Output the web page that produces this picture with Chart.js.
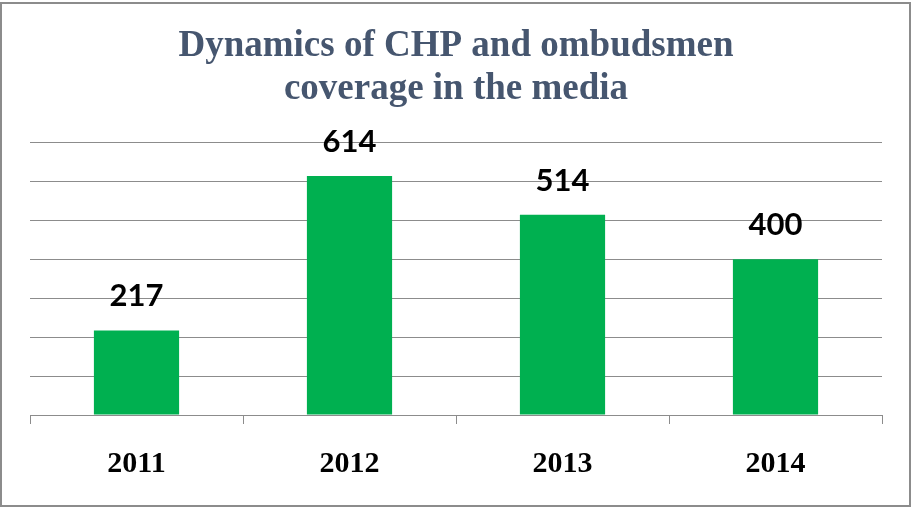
<!DOCTYPE html>
<html>
<head>
<meta charset="utf-8">
<script src="https://cdn.jsdelivr.net/npm/chart.js@4/dist/chart.umd.min.js"></script>
<style>
  html, body { margin: 0; padding: 0; background: #ffffff; }
  #wrap { position: relative; width: 914px; height: 508px; }
</style>
</head>
<body>
<div id="wrap"><canvas id="chart" width="914" height="508"></canvas></div>
<script>
// Media coverage counts per year
const years = ['2011', '2012', '2013', '2014'];
const coverage = [217, 614, 514, 400];
const titleLines = ['Dynamics of CHP and ombudsmen', 'coverage in the media'];

const GRID = '#8c8c8c';
const GREEN = '#00b050';

// Outer frame around the whole chart
const framePlugin = {
  id: 'frame',
  beforeDraw(chart) {
    const ctx = chart.ctx;
    ctx.save();
    ctx.fillStyle = '#ffffff';
    ctx.fillRect(0, 0, chart.width, chart.height);
    ctx.strokeStyle = '#8c8c8c';
    ctx.lineWidth = 2;
    ctx.strokeRect(1, 3, 909, 503);
    ctx.restore();
  }
};

// Value above each bar
const valueLabels = {
  id: 'valueLabels',
  afterDatasetsDraw(chart) {
    const ctx = chart.ctx;
    const meta = chart.getDatasetMeta(0);
    const data = chart.data.datasets[0].data;
    ctx.save();
    ctx.font = 'bold 31px Lato, "Open Sans", sans-serif';
    ctx.fillStyle = '#000000';
    ctx.textAlign = 'center';
    ctx.textBaseline = 'middle';
    meta.data.forEach((bar, i) => {
      ctx.fillText(String(data[i]), bar.x, bar.y - 34);
    });
    ctx.restore();
  }
};

new Chart(document.getElementById('chart'), {
  type: 'bar',
  data: {
    labels: years,
    datasets: [{
      data: coverage,
      backgroundColor: GREEN,
      borderWidth: 0,
      barPercentage: 0.4,
      categoryPercentage: 1.0
    }]
  },
  options: {
    responsive: false,
    animation: false,
    events: [],
    layout: { padding: { left: 30, right: 32, top: 0, bottom: 4 } },
    plugins: {
      legend: { display: false },
      tooltip: { enabled: false },
      title: {
        display: true,
        text: titleLines,
        color: '#46566f',
        font: { family: '"Liberation Serif", "Times New Roman", serif', size: 37, weight: 'bold', lineHeight: 1.154 },
        padding: { top: 25, bottom: 32 }
      }
    },
    scales: {
      x: {
        offset: true,
        grid: { offset: true, drawOnChartArea: false, drawTicks: true, tickLength: 9, color: GRID, lineWidth: 1 },
        border: { display: true, color: GRID, width: 1 },
        ticks: {
          color: '#000000',
          padding: 22,
          font: { family: '"Liberation Serif", "Times New Roman", serif', size: 30, weight: 'bold', lineHeight: 1.2 }
        }
      },
      y: {
        min: 0,
        max: 700,
        ticks: { display: false, stepSize: 100 },
        grid: { color: GRID, lineWidth: 1, drawTicks: false },
        border: { display: false }
      }
    }
  },
  plugins: [framePlugin, valueLabels]
});
</script>
</body>
</html>
